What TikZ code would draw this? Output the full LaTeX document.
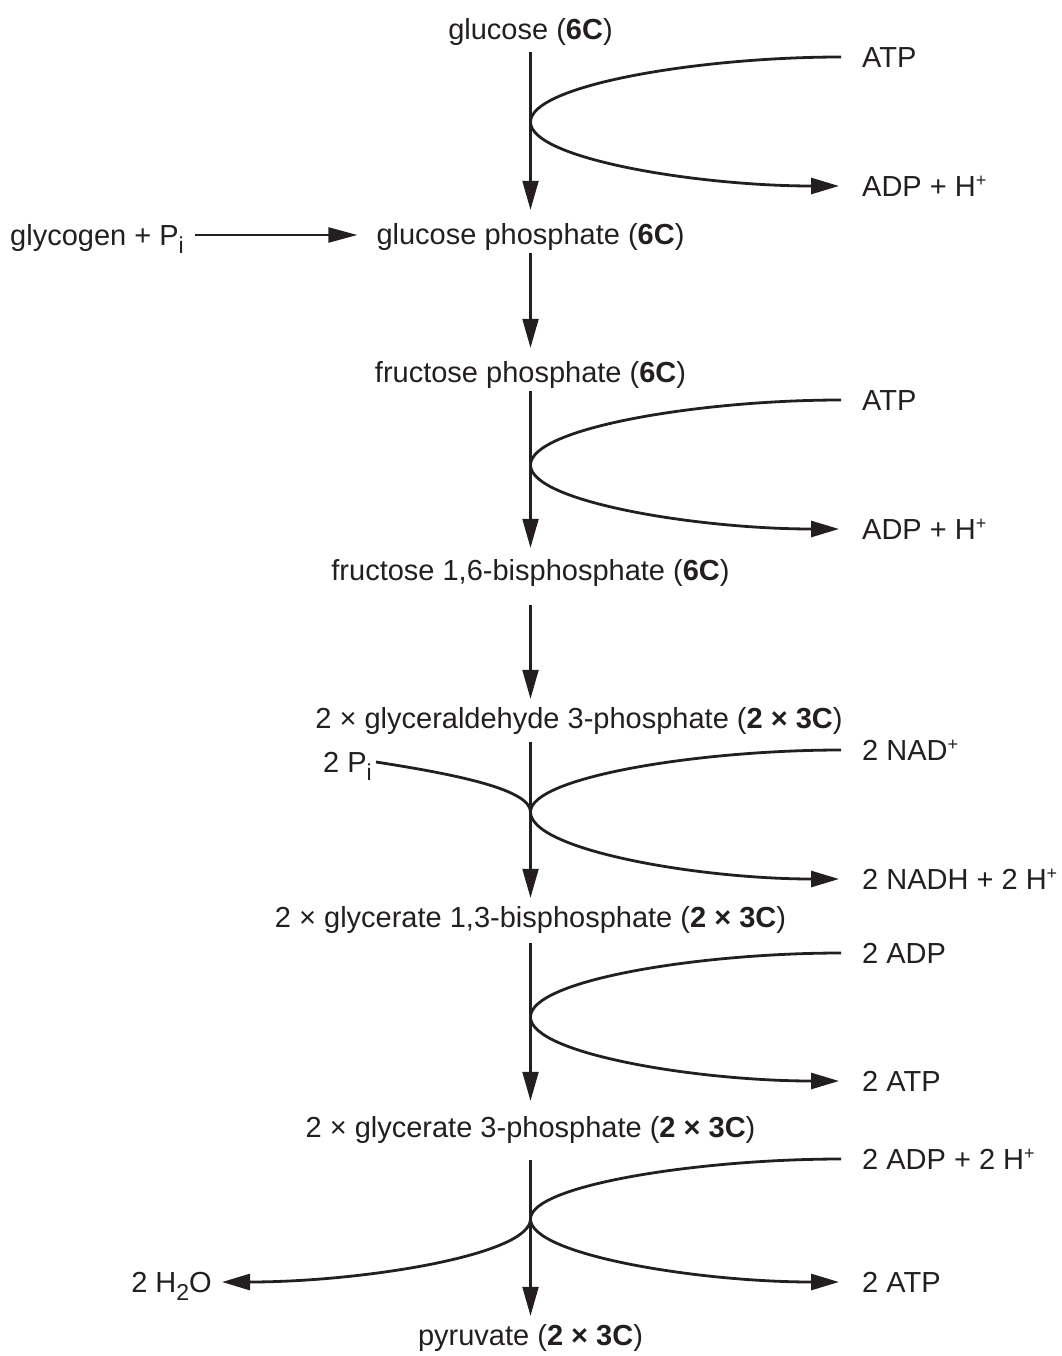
\documentclass[tikz,border=0pt]{standalone}
\usepackage{fontspec}
\setmainfont{Liberation Sans}
\usetikzlibrary{arrows.meta}
\definecolor{ink}{RGB}{35,31,32}
\newcommand{\mysub}[1]{\raisebox{-8pt}{\fontsize{23}{23}\selectfont #1}}
\newcommand{\mysup}[1]{\raisebox{10pt}{\fontsize{18}{18}\selectfont #1}}
\begin{document}
\begin{tikzpicture}[x=1pt,y=-1pt, color=ink,
  lbl/.style={inner sep=0pt, text height=21pt, text depth=0pt, text=ink, font=\fontsize{29}{34}\selectfont},
  main/.style={lbl, anchor=base},
  rlab/.style={lbl, anchor=west},
  llab/.style={lbl, anchor=east},
  vflow/.style={draw=ink, line width=2.2pt, -{Triangle[length=29pt,width=16pt]}},
  side/.style={draw=ink, line width=2.8pt},
  sidearr/.style={side, -{Triangle[length=28pt,width=16pt]}},
  glyarr/.style={draw=ink, line width=2.4pt, -{Triangle[length=29pt,width=15pt]}},
]
\useasboundingbox (0,0) rectangle (1061,1356);

% main metabolites
\node[main] (glc) at (530.5,40)   {glucose (\textbf{6C})};
\node[main] (g6p) at (530.5,244)  {glucose phosphate (\textbf{6C})};
\node[main] (f6p) at (530.5,382)  {fructose phosphate (\textbf{6C})};
\node[main] (fbp) at (530.5,580)  {fructose 1,6-bisphosphate (\textbf{6C})};
\node[main] (gap) at (579,728)    {2 × glyceraldehyde 3-phosphate (\textbf{2 × 3C})};
\node[main] (bpg) at (530.5,927)  {2 × glycerate 1,3-bisphosphate (\textbf{2 × 3C})};
\node[main] (pga) at (530.5,1137) {2 × glycerate 3-phosphate (\textbf{2 × 3C})};
\node[main] (pyr) at (530.5,1345) {pyruvate (\textbf{2 × 3C})};

% side substances
\node[rlab] (atpA) at (862,57)   {ATP};
\node[rlab] (adpA) at (862,186)  {ADP + H\mysup{+}};
\node[rlab] (atpB) at (862,400)  {ATP};
\node[rlab] (adpB) at (862,529)  {ADP + H\mysup{+}};
\node[rlab] (nad)  at (862,750)  {2 NAD\mysup{+}};
\node[rlab] (nadh) at (862,879)  {2 NADH + 2 H\mysup{+}};
\node[rlab] (adpC) at (862,953)  {2 ADP};
\node[rlab] (atpC) at (862,1081) {2 ATP};
\node[rlab] (adpD) at (862,1159) {2 ADP + 2 H\mysup{+}};
\node[rlab] (atpD) at (862,1282) {2 ATP};
\node[rlab] (glyc) at (10,235)   {glycogen + P\mysub{i}};
\node[llab] (pi)   at (372,762)  {2 P\mysub{i}};
\node[llab] (h2o)  at (212,1282) {2 H\mysub{2}O};

% branch points
\coordinate (v1) at (530.5,122);
\coordinate (v2) at (530.5,465);
\coordinate (v3) at (530.5,812);
\coordinate (v4) at (530.5,1017);
\coordinate (v5) at (530.5,1219);

% main pathway arrows
\draw[vflow, shorten <=12pt, shorten >=13pt] (glc.south) -- (g6p.north);
\draw[vflow, shorten <=9pt,  shorten >=13pt] (g6p.south) -- (f6p.north);
\draw[vflow, shorten <=9pt,  shorten >=11pt] (f6p.south) -- (fbp.north);
\draw[vflow, shorten <=25pt, shorten >=8pt]  (fbp.south) -- (fbp.south |- gap.north);
\draw[vflow, shorten <=14pt, shorten >=8pt]  (bpg.north |- gap.south) -- (bpg.north);
\draw[vflow, shorten <=16pt, shorten >=15pt] (bpg.south) -- (pga.north);
\draw[vflow, shorten <=23pt, shorten >=8pt]  (pga.south) -- (pyr.north);

% glycogen input
\draw[glyarr, shorten <=11pt, shorten >=19pt] (glyc.east) -- (glyc.east -| g6p.west);

% side reactions
\draw[side] ([xshift=-21pt]atpA.west) .. controls +(-141,0) and +(0,-37) .. (v1);
\draw[sidearr] (v1) .. controls +(0,37) and +(-140,0) .. ([xshift=-23pt]adpA.west);

\draw[side] ([xshift=-21pt]atpB.west) .. controls +(-141,0) and +(0,-37) .. (v2);
\draw[sidearr] (v2) .. controls +(0,37) and +(-140,0) .. ([xshift=-23pt]adpB.west);

\draw[side] ([xshift=-21pt]nad.west) .. controls +(-141,0) and +(0,-35) .. (v3);
\draw[sidearr] (v3) .. controls +(0,38) and +(-140,0) .. ([xshift=-23pt]nadh.west);
\draw[side] ([xshift=4pt]pi.east) .. controls +(84,13) and +(0,-22) .. (v3);

\draw[side] ([xshift=-21pt]adpC.west) .. controls +(-141,0) and +(0,-37) .. (v4);
\draw[sidearr] (v4) .. controls +(0,37) and +(-140,0) .. ([xshift=-23pt]atpC.west);

\draw[side] ([xshift=-21pt]adpD.west) .. controls +(-141,0) and +(0,-34) .. (v5);
\draw[sidearr] (v5) .. controls +(0,36) and +(-140,0) .. ([xshift=-23pt]atpD.west);
\draw[sidearr] (v5) .. controls +(0,36) and +(140,0) .. ([xshift=10pt]h2o.east);
\end{tikzpicture}
\end{document}
